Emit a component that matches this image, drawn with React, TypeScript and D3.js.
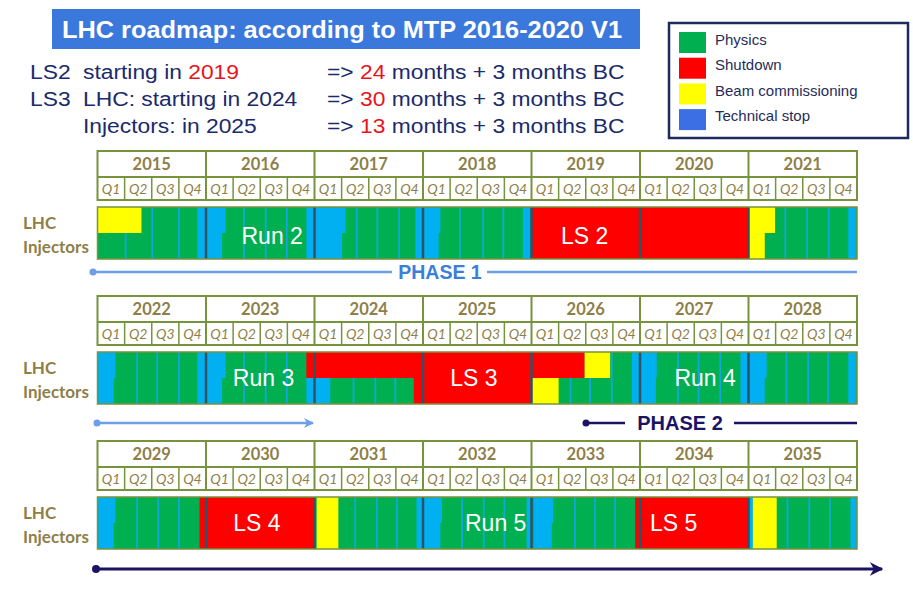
import React from "react";
import * as d3 from "d3";

// ---------- data ----------
const bandStartYears = [2015, 2022, 2029];
const yearsPerBand = 7;
const quarterLabels = ["Q1", "Q2", "Q3", "Q4"];
const rowLabels = ["LHC", "Injectors"];
const legendLabels = ["Physics", "Shutdown", "Beam commissioning", "Technical stop"];
const legendKinds = ["ph", "sd", "bc", "ts"];

// [row (L = LHC, I = Injectors, B = both), start year, end year, kind]
const segments: [string, number, number, string][] = [
  ["L", 2015.0, 2015.405, "bc"],
  ["B", 2015.92, 2015.99, "ts"],
  ["L", 2016.0, 2016.18, "ts"], ["I", 2016.0, 2016.148, "ts"], ["B", 2016.925, 2016.99, "ts"],
  ["L", 2017.0, 2017.285, "ts"], ["I", 2017.0, 2017.254, "ts"], ["B", 2017.93, 2017.99, "ts"],
  ["L", 2018.0, 2018.16, "ts"], ["I", 2018.0, 2018.144, "ts"], ["B", 2018.92, 2018.99, "ts"],
  ["B", 2019.0, 2021.0, "sd"],
  ["L", 2021.0, 2021.245, "bc"], ["I", 2021.0, 2021.15, "bc"], ["B", 2021.92, 2021.99, "ts"],
  ["L", 2022.0, 2022.166, "ts"], ["I", 2022.0, 2022.15, "ts"], ["B", 2022.92, 2022.99, "ts"],
  ["L", 2023.0, 2023.179, "ts"], ["I", 2023.0, 2023.148, "ts"],
  ["L", 2023.925, 2026.49, "sd"], ["I", 2023.925, 2023.99, "ts"],
  ["I", 2024.0, 2024.145, "ts"], ["I", 2024.915, 2026.0, "sd"],
  ["L", 2026.49, 2026.725, "bc"], ["I", 2026.0, 2026.25, "bc"], ["B", 2026.926, 2026.99, "ts"],
  ["L", 2027.0, 2027.154, "ts"], ["I", 2027.0, 2027.147, "ts"], ["B", 2027.925, 2027.99, "ts"],
  ["L", 2028.0, 2028.167, "ts"], ["I", 2028.0, 2028.15, "ts"], ["B", 2028.92, 2028.99, "ts"],
  ["L", 2029.0, 2029.166, "ts"], ["I", 2029.0, 2029.15, "ts"], ["B", 2029.94, 2031.0, "sd"],
  ["B", 2031.02, 2031.22, "bc"], ["B", 2031.94, 2032.0, "ts"],
  ["L", 2032.0, 2032.175, "ts"], ["I", 2032.0, 2032.16, "ts"], ["B", 2032.955, 2033.0, "ts"],
  ["L", 2033.02, 2033.2, "ts"], ["I", 2033.02, 2033.187, "ts"], ["B", 2033.955, 2035.0, "sd"],
  ["B", 2035.0, 2035.04, "ts"], ["B", 2035.04, 2035.26, "bc"], ["B", 2035.94, 2036.0, "ts"],
];

// thin machine-development stops: [year, fractions of year...]
const thinStops: number[][] = [
  [2015, 0.26, 0.505, 0.75],
  [2016, 0.35, 0.55, 0.745],
  [2017, 0.39, 0.58, 0.78],
  [2018, 0.34, 0.555, 0.74],
  [2021, 0.34, 0.54, 0.74],
  [2022, 0.365, 0.55, 0.75],
  [2023, 0.35, 0.55, 0.745],
  [2024, 0.36, 0.56, 0.745],
  [2026, 0.36, 0.54, 0.74],
  [2027, 0.35, 0.54, 0.74],
  [2028, 0.35, 0.55, 0.735],
  [2029, 0.365, 0.56, 0.75],
  [2031, 0.375, 0.575, 0.76],
  [2032, 0.36, 0.56, 0.75],
  [2033, 0.4, 0.585, 0.77],
  [2035, 0.36, 0.56, 0.75],
];

// [label, centre year]
const barLabels: [string, number][] = [
  ["Run 2", 2016.61], ["LS 2", 2019.49],
  ["Run 3", 2023.53], ["LS 3", 2025.47], ["Run 4", 2027.6],
  ["LS 4", 2030.47], ["Run 5", 2032.67], ["LS 5", 2034.31],
];

// ---------- styles ----------
const kindColor: Record<string, string> = {
  ph: "#00b050", sd: "#ff0000", bc: "#ffff00", ts: "#00b0f0",
};
const legendColor: Record<string, string> = {
  ph: "#00b050", sd: "#ff0000", bc: "#ffff00", ts: "#3c6fe4",
};
const OLIVE = "#77933c";
const HEAD_TXT = "#8e7f48";
const NAVY = "#1a2a6c";
const PHASE_DARK = "#1b1464";
const PHASE_LIGHT = "#6d9eeb";

const W = 913, H = 614;
const X0 = 97.5, X1 = 857;
const bandTops = [151, 296, 441];

export default function App() {
  const bands = bandStartYears.map((s, bi) => {
    const x = d3.scaleLinear().domain([s, s + yearsPerBand]).range([X0, X1]);
    const top = bandTops[bi];
    const yearRowH = 26, qRowH = 23;
    const barTop = top + 56, barH = 52, half = barH / 2;
    const years = d3.range(s, s + yearsPerBand);
    const inBand = (a: number, b: number) => b > s && a < s + yearsPerBand;
    const clampX = (v: number) => x(Math.max(s, Math.min(s + yearsPerBand, v)));

    return (
      <g key={s}>
        {/* header table */}
        <rect x={X0} y={top} width={X1 - X0} height={yearRowH + qRowH} fill="#fff" stroke={OLIVE} strokeWidth={2} />
        <line x1={X0} x2={X1} y1={top + yearRowH} y2={top + yearRowH} stroke={OLIVE} strokeWidth={2} />
        {years.map((yr) => (
          <g key={yr}>
            {yr > s && (
              <line x1={x(yr)} x2={x(yr)} y1={top} y2={top + yearRowH + qRowH} stroke={OLIVE} strokeWidth={2} />
            )}
            <text x={x(yr + 0.5)} y={top + 19} textAnchor="middle" fontFamily="Lato, 'Open Sans', sans-serif"
              fontWeight={700} fontSize={16.5} fill={HEAD_TXT}>{yr}</text>
            {quarterLabels.map((q, qi) => (
              <g key={q}>
                {qi > 0 && (
                  <line x1={x(yr + qi / 4)} x2={x(yr + qi / 4)} y1={top + yearRowH} y2={top + yearRowH + qRowH}
                    stroke={OLIVE} strokeWidth={1.5} />
                )}
                <text x={x(yr + qi / 4 + 0.125)} y={top + yearRowH + 16.5} textAnchor="middle"
                  fontFamily="Lato, 'Open Sans', sans-serif" fontStyle="italic" fontSize={14} fill={HEAD_TXT}>{q}</text>
              </g>
            ))}
          </g>
        ))}

        {/* row labels */}
        {rowLabels.map((r, ri) => (
          <text key={r} x={23} y={top + (ri === 0 ? 78 : 102)} fontFamily="Lato, 'Open Sans', sans-serif"
            fontWeight={700} fontSize={17} fill={HEAD_TXT}>{r}</text>
        ))}

        {/* bar */}
        <rect x={X0} y={barTop} width={X1 - X0} height={barH} fill={kindColor.ph} />
        {thinStops.filter((t) => t[0] >= s && t[0] < s + yearsPerBand).map((t) =>
          t.slice(1).map((f, k) => (
            <line key={t[0] + "-" + k} x1={x(t[0] + f)} x2={x(t[0] + f)} y1={barTop} y2={barTop + barH}
              stroke="#14a5dc" strokeWidth={1.8} />
          ))
        )}
        {segments.filter((g) => inBand(g[1], g[2])).map((g, k) => {
          const y0 = g[0] === "I" ? barTop + half : barTop;
          const h = g[0] === "B" ? barH : half;
          return (
            <rect key={k} x={clampX(g[1])} y={y0} width={clampX(g[2]) - clampX(g[1])} height={h}
              fill={kindColor[g[3]]} />
          );
        })}
        {years.map((yr) =>
          yr > s ? (
            <line key={"yb" + yr} x1={x(yr)} x2={x(yr)} y1={barTop} y2={barTop + barH} stroke="#2e5266" strokeWidth={2.5} />
          ) : null
        )}
        <rect x={X0} y={barTop} width={X1 - X0} height={barH} fill="none" stroke={OLIVE} strokeWidth={1.5} />
        {barLabels.filter((l) => l[1] >= s && l[1] < s + yearsPerBand).map((l) => (
          <text key={l[0]} x={x(l[1])} y={barTop + half + (bi === 0 ? 11 : 8)} textAnchor="middle"
            fontFamily="'Liberation Sans', Arial, sans-serif" fontSize={23} fill="#fff">{l[0]}</text>
        ))}
      </g>
    );
  });

  return (
    <svg width={W} height={H} style={{ position: "absolute", left: 0, top: 0, background: "#fff" }}
      xmlns="http://www.w3.org/2000/svg">
      <rect width={W} height={H} fill="#fff" />
      {/* title */}
      <rect x={52} y={9} width={588} height={40} fill="#3b78dc" />
      <text x={62} y={38} fontFamily="'Liberation Sans', Arial, sans-serif" fontWeight={700} fontSize={24}
        fill="#fff" textLength={560} lengthAdjust="spacingAndGlyphs">LHC roadmap: according to MTP 2016-2020 V1</text>

      {/* subtitle lines */}
      <g transform="translate(30,0) scale(1.17,1)" fontFamily="'Liberation Sans', Arial, sans-serif"
        fontSize={19.5} fill={NAVY}>
        <text x={0} y={79}>LS2</text>
        <text x={(83 - 30) / 1.17} y={79}>starting in <tspan fill="#e8141b">2019</tspan></text>
        <text x={(327 - 30) / 1.17} y={79}>=&gt; <tspan fill="#e8141b">24</tspan> months + 3 months BC</text>
        <text x={0} y={106}>LS3</text>
        <text x={(83 - 30) / 1.17} y={106}>LHC: starting in 2024</text>
        <text x={(327 - 30) / 1.17} y={106}>=&gt; <tspan fill="#e8141b">30</tspan> months + 3 months BC</text>
        <text x={(83 - 30) / 1.17} y={133}>Injectors: in 2025</text>
        <text x={(327 - 30) / 1.17} y={133}>=&gt; <tspan fill="#e8141b">13</tspan> months + 3 months BC</text>
      </g>

      {/* legend */}
      <rect x={669} y={23} width={239} height={115} fill="#fff" stroke="#1f2a5c" strokeWidth={2.5} />
      {legendLabels.map((l, i) => (
        <g key={l}>
          <rect x={679} y={32 + i * 25.7} width={27} height={21} fill={legendColor[legendKinds[i]]} />
          <text x={715} y={45 + i * 25.3} fontFamily="'Liberation Sans', Arial, sans-serif" fontSize={15}
            fill="#1f2d5a">{l}</text>
        </g>
      ))}

      {bands}

      {/* PHASE 1 */}
      <line x1={93} x2={857} y1={272} y2={272} stroke={PHASE_LIGHT} strokeWidth={2.5} />
      <circle cx={93} cy={272} r={3.5} fill={PHASE_LIGHT} />
      <rect x={392} y={261} width={95} height={22} fill="#fff" />
      <text x={440} y={279} textAnchor="middle" fontFamily="'Liberation Sans', Arial, sans-serif" fontWeight={700}
        fontSize={19.5} fill="#3a7fd8">PHASE 1</text>

      <defs>
        <marker id="arrL" viewBox="0 0 10 10" refX={9} refY={5} markerWidth={4} markerHeight={4} orient="auto">
          <path d="M0,0 L10,5 L0,10 L3,5 Z" fill={PHASE_LIGHT} />
        </marker>
        <marker id="arrD" viewBox="0 0 10 10" refX={9} refY={5} markerWidth={4.5} markerHeight={4.5} orient="auto">
          <path d="M0,0 L10,5 L0,10 L3,5 Z" fill={PHASE_DARK} />
        </marker>
      </defs>
      {/* band 2 arrows */}
      <line x1={97} x2={313} y1={423} y2={423} stroke={PHASE_LIGHT} strokeWidth={2.5} markerEnd="url(#arrL)" />
      <circle cx={97} cy={423} r={3.5} fill={PHASE_LIGHT} />
      <line x1={586} x2={625} y1={423} y2={423} stroke={PHASE_DARK} strokeWidth={2.5} />
      <circle cx={586} cy={423} r={3.5} fill={PHASE_DARK} />
      <text x={680} y={430} textAnchor="middle" fontFamily="'Liberation Sans', Arial, sans-serif" fontWeight={700}
        fontSize={20} fill={PHASE_DARK}>PHASE 2</text>
      <line x1={734} x2={857} y1={423} y2={423} stroke={PHASE_DARK} strokeWidth={2.5} />

      {/* band 3 arrow */}
      <line x1={96} x2={882} y1={569} y2={569} stroke={PHASE_DARK} strokeWidth={3} markerEnd="url(#arrD)" />
      <circle cx={96} cy={569} r={4} fill={PHASE_DARK} />
    </svg>
  );
}
